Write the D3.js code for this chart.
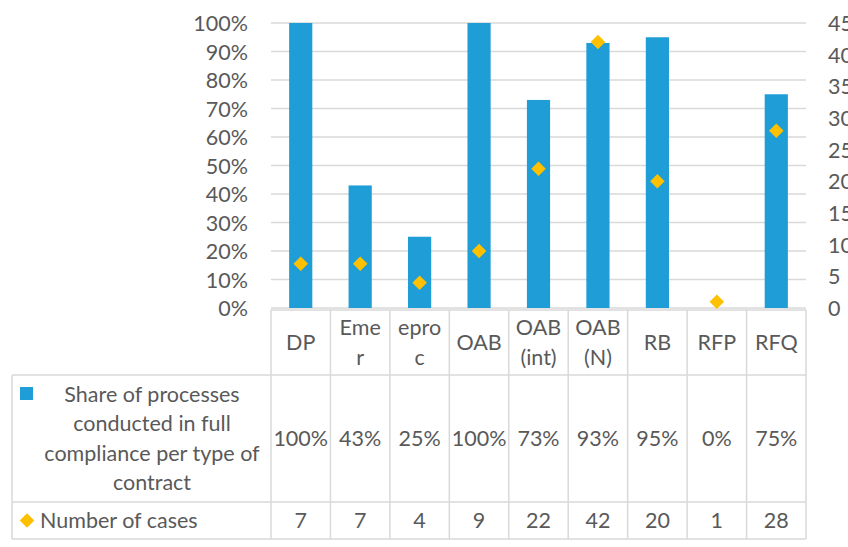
<!DOCTYPE html>
<html lang="en">
<head>
<meta charset="UTF-8">
<title>Compliance per type of contract</title>
<script src="https://d3js.org/d3.v7.min.js"></script>
<style>
body { margin: 0; background: #fff; }
svg text { font-family: Lato, "Open Sans", sans-serif; fill: #595959; }
</style>
</head>
<body>
<script>
// data
var categories = ["DP", "Emer", "eproc", "OAB", "OAB (int)", "OAB (N)", "RB", "RFP", "RFQ"];
var headerLines = [["DP"], ["Eme", "r"], ["epro", "c"], ["OAB"], ["OAB", "(int)"], ["OAB", "(N)"], ["RB"], ["RFP"], ["RFQ"]];
var share = [1.00, 0.43, 0.25, 1.00, 0.73, 0.93, 0.95, 0.00, 0.75];
var cases = [7, 7, 4, 9, 22, 42, 20, 1, 28];
var leftTicks = [0, 0.1, 0.2, 0.3, 0.4, 0.5, 0.6, 0.7, 0.8, 0.9, 1.0];
var rightTicks = [0, 5, 10, 15, 20, 25, 30, 35, 40, 45];
var shareLabel = ["Share of processes", "conducted in full", "compliance per type of", "contract"];
var casesLabel = "Number of cases";

var W = 848, H = 547;
var blue = "#1f9dd7", gold = "#ffc000", grid = "#d9d9d9";
var plotL = 271, plotR = 806, plotT = 23, plotB = 308;
var tableL = 12, rowH = [310, 375, 502, 539];
var fs = "21.5px";

var svg = d3.select("body").append("svg").attr("width", W).attr("height", H);

var x = d3.scaleBand().domain(categories).range([plotL, plotR]).padding(0);
var yL = d3.scaleLinear().domain([0, 1]).range([plotB, plotT]);
var yR = d3.scaleLinear().domain([0, 45]).range([plotB, plotT]);
var pct = d3.format(".0%");

// gridlines
svg.append("g").selectAll("line").data(leftTicks).enter().append("line")
  .attr("x1", plotL).attr("x2", plotR)
  .attr("y1", function(d){ return yL(d); }).attr("y2", function(d){ return yL(d); })
  .attr("stroke", grid).attr("stroke-width", 1.3);

// left axis
var axL = svg.append("g").attr("transform", "translate(" + (plotL - 23) + ",0)")
  .call(d3.axisLeft(yL).tickValues(leftTicks).tickFormat(pct).tickSize(0).tickPadding(0));
axL.select(".domain").remove();
axL.selectAll("text").style("font-size", fs).attr("fill", "#595959").attr("dy", "0.35em");

// right axis
var axR = svg.append("g").attr("transform", "translate(" + (plotR + 22) + ",0)")
  .call(d3.axisRight(yR).tickValues(rightTicks).tickSize(0).tickPadding(0));
axR.select(".domain").remove();
axR.selectAll("text").style("font-size", fs).attr("fill", "#595959").attr("dy", "0.35em");

// bars
var bw = x.bandwidth() * 0.39;
svg.append("g").selectAll("rect").data(share).enter().append("rect")
  .attr("x", function(d, i){ return x(categories[i]) + (x.bandwidth() - bw) / 2; })
  .attr("y", function(d){ return yL(d); })
  .attr("width", bw)
  .attr("height", function(d){ return plotB - yL(d); })
  .attr("fill", blue);

// diamonds
var diamond = d3.symbol().type(d3.symbolDiamond2).size(135);
svg.append("g").selectAll("path").data(cases).enter().append("path")
  .attr("d", diamond)
  .attr("transform", function(d, i){
    return "translate(" + (x(categories[i]) + x.bandwidth() / 2) + "," + yR(d) + ")";
  })
  .attr("fill", gold);

// data table
var tbl = svg.append("g");
var bc = grid;
// horizontal lines
tbl.append("line").attr("x1", plotL).attr("x2", plotR).attr("y1", rowH[0]).attr("y2", rowH[0]).attr("stroke", bc).attr("stroke-width", 1.5);
[1, 2, 3].forEach(function(r){
  tbl.append("line").attr("x1", tableL).attr("x2", plotR).attr("y1", rowH[r]).attr("y2", rowH[r]).attr("stroke", bc).attr("stroke-width", 1.5);
});
// vertical lines
tbl.append("line").attr("x1", tableL).attr("x2", tableL).attr("y1", rowH[1]).attr("y2", rowH[3]).attr("stroke", bc).attr("stroke-width", 1.5);
categories.concat(["end"]).forEach(function(c, i){
  var xx = i < categories.length ? x(c) : plotR;
  tbl.append("line").attr("x1", xx).attr("x2", xx).attr("y1", rowH[0]).attr("y2", rowH[3]).attr("stroke", bc).attr("stroke-width", 1.5);
});

// header row
categories.forEach(function(c, i){
  var lines = headerLines[i];
  var cy = (rowH[0] + rowH[1]) / 2;
  var lh = 30;
  lines.forEach(function(t, j){
    tbl.append("text").attr("x", x(c) + x.bandwidth() / 2)
      .attr("y", cy + (j - (lines.length - 1) / 2) * lh)
      .attr("dy", "0.35em").attr("text-anchor", "middle")
      .style("font-size", fs).text(t);
  });
});

// share row
share.forEach(function(v, i){
  tbl.append("text").attr("x", x(categories[i]) + x.bandwidth() / 2)
    .attr("y", (rowH[1] + rowH[2]) / 2).attr("dy", "0.35em").attr("text-anchor", "middle")
    .style("font-size", fs).text(pct(v));
});
// cases row
cases.forEach(function(v, i){
  tbl.append("text").attr("x", x(categories[i]) + x.bandwidth() / 2)
    .attr("y", (rowH[2] + rowH[3]) / 2).attr("dy", "0.35em").attr("text-anchor", "middle")
    .style("font-size", fs).text(v);
});

// legend cells
var mid1 = (rowH[1] + rowH[2]) / 2;
shareLabel.forEach(function(t, j){
  tbl.append("text").attr("x", 152)
    .attr("y", mid1 + (j - 1.5) * 29.5).attr("dy", "0.35em").attr("text-anchor", "middle")
    .style("font-size", fs).text(t);
});
tbl.append("rect").attr("x", 20).attr("y", 387).attr("width", 13).attr("height", 13).attr("fill", blue);

var mid2 = (rowH[2] + rowH[3]) / 2;
tbl.append("path").attr("d", diamond).attr("transform", "translate(27," + mid2 + ")").attr("fill", gold);
tbl.append("text").attr("x", 40).attr("y", mid2).attr("dy", "0.35em")
  .style("font-size", fs).text(casesLabel);
</script>
</body>
</html>
